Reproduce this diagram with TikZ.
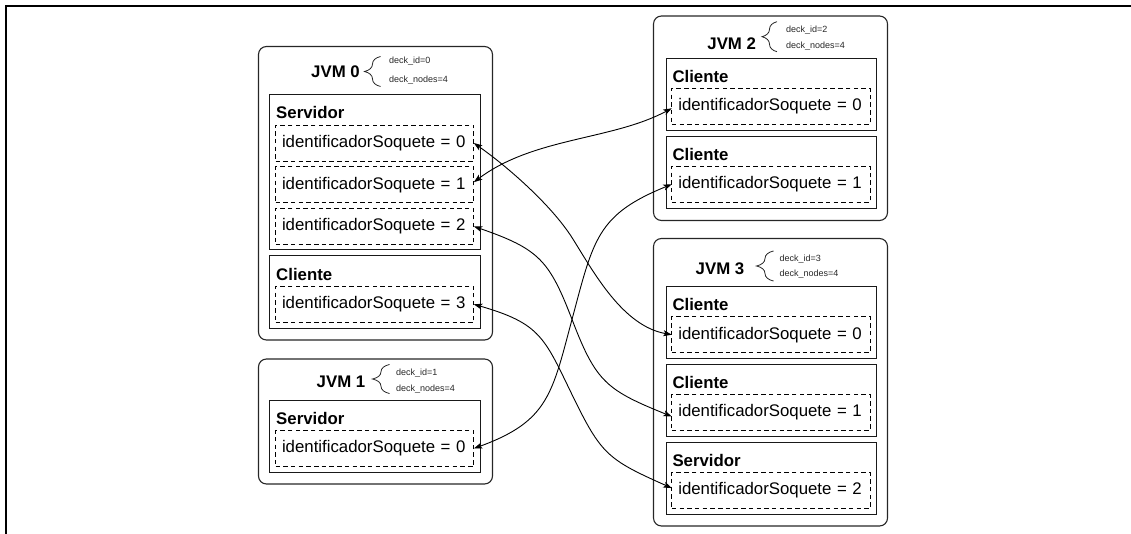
\documentclass[tikz,border=0pt]{standalone}
\usepackage{fontspec}
\setmainfont{Liberation Sans}
\usetikzlibrary{arrows.meta,calc,decorations.pathreplacing}
\newcommand{\mainsize}{\fontsize{16.8}{20}\selectfont}
\newcommand{\decksize}{\fontsize{9}{11}\selectfont}
\begin{document}
\begin{tikzpicture}[x=1pt,y=-1pt,
  jvmbox/.style={draw=black!85, line width=1.1pt, rounded corners=8pt,
    inner sep=0pt, outer sep=0pt, anchor=north west, minimum width=234pt},
  jvmlabel/.style={font=\mainsize\bfseries, inner sep=0pt},
  bracemark/.style={draw=black!85, line width=0.8pt, decorate,
    decoration={brace, amplitude=#1}},
  decktext/.style={font=\decksize, inner sep=0pt, anchor=west, text=black!85},
  rolebox/.style={draw=black!90, line width=1pt, inner sep=0pt, outer sep=0pt,
    anchor=north west, minimum width=210.5pt},
  rolelabel/.style={font=\mainsize\bfseries, inner sep=0pt, anchor=west},
  sockbox/.style={draw=black, line width=0.9pt, dash pattern=on 4.5pt off 3.2pt,
    anchor=north west, outer sep=0pt, inner xsep=6.5pt, inner ysep=0pt,
    text width=185.3pt, align=left, minimum height=36pt, font=\mainsize},
  link/.style={line width=0.9pt,
    arrows={Stealth[length=8.5pt,width=6pt,inset=2pt]-Stealth[length=8.5pt,width=6pt,inset=2pt]}}
]
\useasboundingbox (0,0) rectangle (1131,534);

% page frame
\draw[line width=2.5pt] (6,534) -- (6,6) -- (1131,6);

% ---------------- JVM 0 ----------------
\node[jvmbox, minimum height=293.5pt] (jvm0) at (258.5,46.5) {};
\node[jvmlabel] (jvm0lab) at (335.5,71.5) {JVM 0};
\draw[bracemark=16pt] (380.5,86.5) -- (380.5,56.5);
\node[decktext] (jvm0id) at (389,61.5) {deck\_id=0};
\node[decktext] (jvm0n) at (389,80) {deck\_nodes=4};

\node[rolebox, minimum height=155.5pt] (j0srv) at (269.5,94.5) {};
\node[rolelabel] (j0srvlab) at (276,112.5) {Servidor};
\node[sockbox] (j0s0) at (275.5,125) {identificadorSoquete = 0};
\node[sockbox] (j0s1) at (275.5,166.7) {identificadorSoquete = 1};
\node[sockbox] (j0s2) at (275.5,208.4) {identificadorSoquete = 2};

\node[rolebox, minimum height=72.5pt] (j0cli) at (269.5,256) {};
\node[rolelabel] (j0clilab) at (276,274) {Cliente};
\node[sockbox] (j0cs) at (275.5,286.3) {identificadorSoquete = 3};

% ---------------- JVM 1 ----------------
\node[jvmbox, minimum height=125pt] (jvm1) at (258.5,359) {};
\node[jvmlabel] (jvm1lab) at (341,382.3) {JVM 1};
\draw[bracemark=17pt] (389.5,393.5) -- (389.5,364.5);
\node[decktext] (jvm1id) at (396,372.7) {deck\_id=1};
\node[decktext] (jvm1n) at (396,389) {deck\_nodes=4};

\node[rolebox, minimum height=72pt] (j1srv) at (269.5,400.7) {};
\node[rolelabel] (j1srvlab) at (276,418.5) {Servidor};
\node[sockbox] (j1ss) at (275.5,430.5) {identificadorSoquete = 0};

% ---------------- JVM 2 ----------------
\node[jvmbox, minimum height=204.5pt] (jvm2) at (653.5,16) {};
\node[jvmlabel] (jvm2lab) at (731.7,43.5) {JVM 2};
\draw[bracemark=15pt] (777,51.7) -- (777,21.7);
\node[decktext] (jvm2id) at (786,30) {deck\_id=2};
\node[decktext] (jvm2n) at (786,45.7) {deck\_nodes=4};

\node[rolebox, minimum height=72pt] (j2c0) at (666,58.3) {};
\node[rolelabel] (j2c0lab) at (672.3,76.5) {Cliente};
\node[sockbox] (j2c0s) at (671.8,88.3) {identificadorSoquete = 0};

\node[rolebox, minimum height=72pt] (j2c1) at (666,136.3) {};
\node[rolelabel] (j2c1lab) at (672.3,154.3) {Cliente};
\node[sockbox] (j2c1s) at (671.8,166.3) {identificadorSoquete = 1};

% ---------------- JVM 3 ----------------
\node[jvmbox, minimum height=287.5pt] (jvm3) at (653.5,238.5) {};
\node[jvmlabel] (jvm3lab) at (720,268.3) {JVM 3};
\draw[bracemark=17pt] (773.5,281) -- (773.5,251);
\node[decktext] (jvm3id) at (779.5,259) {deck\_id=3};
\node[decktext] (jvm3n) at (779.5,274.3) {deck\_nodes=4};

\node[rolebox, minimum height=72pt] (j3c0) at (666,286.7) {};
\node[rolelabel] (j3c0lab) at (672.3,304.3) {Cliente};
\node[sockbox] (j3c0s) at (671.8,316.7) {identificadorSoquete = 0};

\node[rolebox, minimum height=72.3pt] (j3c1) at (666,364.4) {};
\node[rolelabel] (j3c1lab) at (672.3,382.3) {Cliente};
\node[sockbox] (j3c1s) at (671.8,394.5) {identificadorSoquete = 1};

\node[rolebox, minimum height=72.5pt] (j3srv) at (666,442.4) {};
\node[rolelabel] (j3srvlab) at (672.3,460.3) {Servidor};
\node[sockbox] (j3ss) at (671.8,472.6) {identificadorSoquete = 2};

% ---------------- socket links ----------------
\draw[link] (j0s0.east)
  .. controls +(32.8,23) and +(-21.2,-33.9) .. ($(j0s0.east)!0.5!(j3c0s.west)$)
  .. controls +(21.2,33.9) and +(-49,-8.7) .. (j3c0s.west);

\draw[link] ([yshift=2.5pt]j0s1.east)
  .. controls +(60,-45) and +(-60,32) .. ([yshift=-2pt]j2c0s.west);

\draw[link] (j0s2.east)
  .. controls +(66.2,22.8) and +(-23.3,-60.7) .. ($(j0s2.east)!0.5!([yshift=-4pt]j3c1s.west)$)
  .. controls +(23.3,60.7) and +(-64.9,-26.2) .. ([yshift=-4pt]j3c1s.west);

\draw[link] (j0cs.east)
  .. controls +(67.3,19.3) and +(-28.5,-58.4) .. ($(j0cs.east)!0.5!([yshift=2.5pt]j3ss.west)$)
  .. controls +(28.5,58.4) and +(-64,-28.5) .. ([yshift=2.5pt]j3ss.west);

\draw[link] (j1ss.east)
  .. controls +(75.2,-27.4) and +(-20.7,77.3) .. ($(j1ss.east)!0.5!(j2c1s.west)$)
  .. controls +(20.7,-77.3) and +(-74.2,30) .. (j2c1s.west);
\end{tikzpicture}
\end{document}
